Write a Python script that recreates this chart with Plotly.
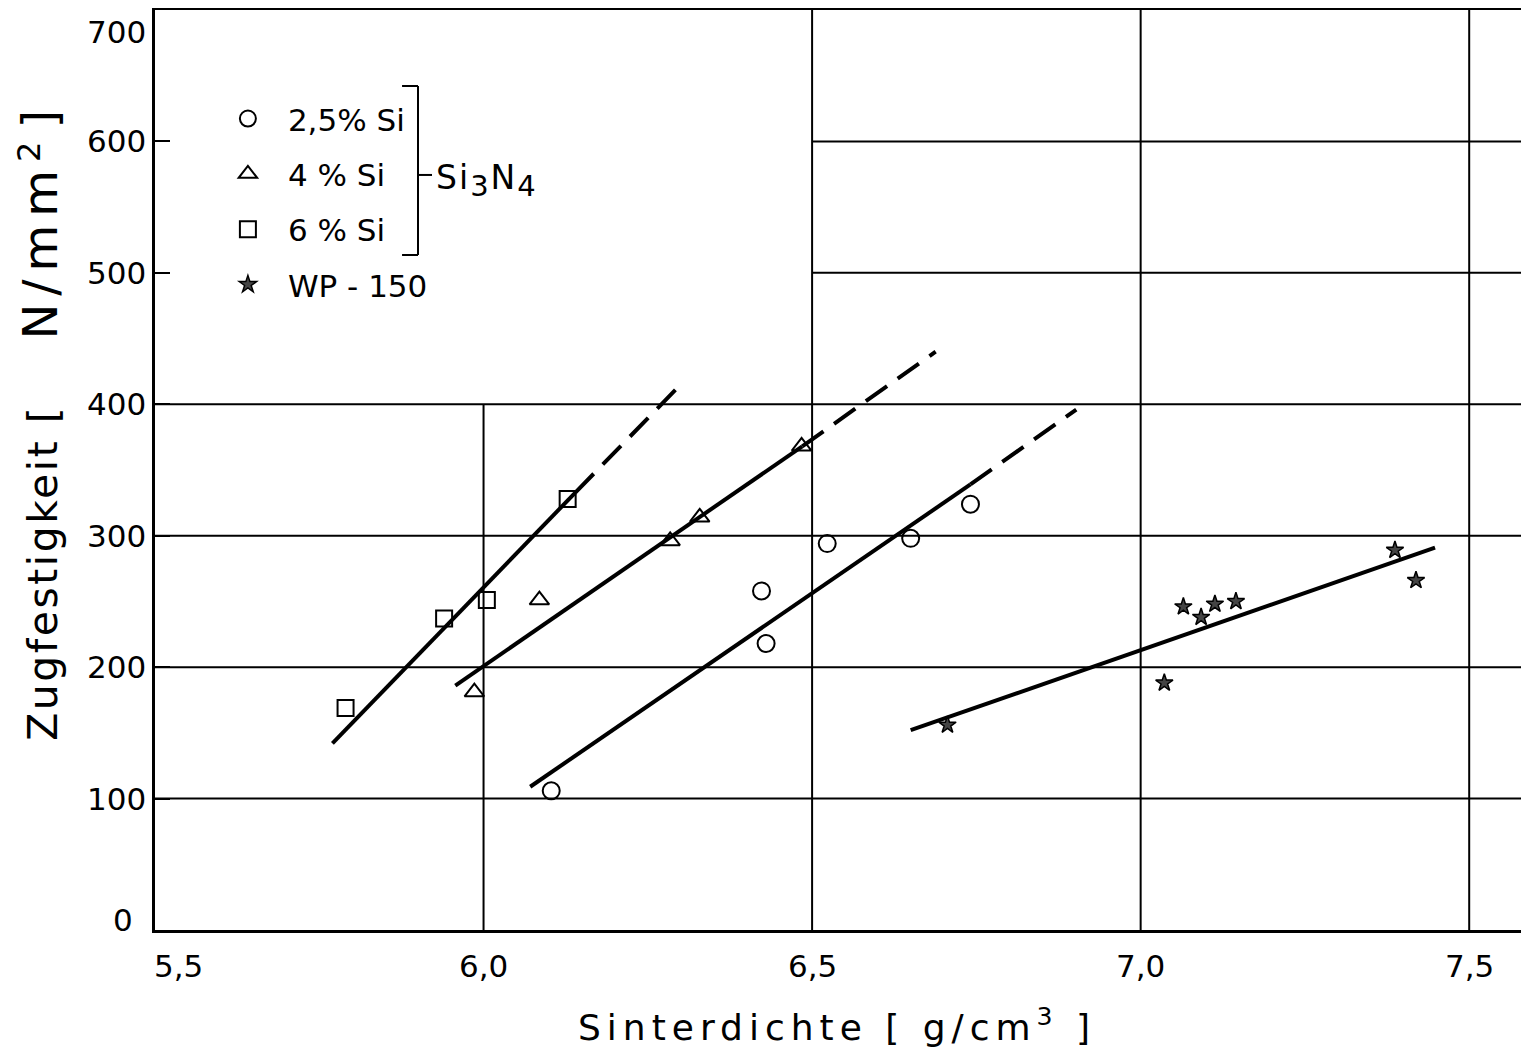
import plotly.graph_objects as go

# Messpunkte (Sinterdichte g/cm3, Zugfestigkeit N/mm2)
si6_x = [5.79, 5.94, 6.005, 6.128]
si6_y = [169, 237, 251, 328]
si4_x = [5.986, 6.085, 6.284, 6.329, 6.484]
si4_y = [181, 251, 296, 314, 368]
si25_x = [6.103, 6.423, 6.43, 6.523, 6.65, 6.741]
si25_y = [106, 258, 218, 294, 298, 324]
wp_x = [6.706, 7.036, 7.065, 7.092, 7.113, 7.145, 7.387, 7.419]
wp_y = [156, 188, 246, 238, 248, 250, 289, 266]

# Ausgleichsgeraden: durchgezogener Teil und gestrichelte Verlaengerung
si6_fit_x, si6_fit_y = [5.77, 6.14], [142, 333]
si6_ext_x, si6_ext_y = [6.14, 6.30], [333, 415]
si4_fit_x, si4_fit_y = [5.957, 6.485], [186, 368]
si4_ext_x, si4_ext_y = [6.485, 6.688], [368, 440]
si25_fit_x, si25_fit_y = [6.071, 6.741], [109, 339]
si25_ext_x, si25_ext_y = [6.741, 6.902], [339, 396]
wp_fit_x, wp_fit_y = [6.65, 7.448], [152, 291]

x_ticks = [5.5, 6.0, 6.5, 7.0, 7.5]
x_ticktext = ["5,5", "6,0", "6,5", "7,0", "7,5"]
y_ticks = [0, 100, 200, 300, 400, 500, 600, 700]

grid_h_full = [100, 200, 300, 400]
grid_h_right = [500, 600]
grid_v_full = [6.5, 7.0, 7.5]
grid_v_low = [6.0]

FONT = "DejaVu Sans"
INK = "black"
NB = "\u00a0"

fig = go.Figure()

line_style = dict(color=INK, width=4)
dash_style = dict(color=INK, width=4, dash="26px,13px")

for fx, fy, ex, ey in [
    (si6_fit_x, si6_fit_y, si6_ext_x, si6_ext_y),
    (si4_fit_x, si4_fit_y, si4_ext_x, si4_ext_y),
    (si25_fit_x, si25_fit_y, si25_ext_x, si25_ext_y),
]:
    fig.add_trace(go.Scatter(x=fx, y=fy, mode="lines", line=line_style,
                             showlegend=False, hoverinfo="skip"))
    fig.add_trace(go.Scatter(x=ex, y=ey, mode="lines", line=dash_style,
                             showlegend=False, hoverinfo="skip"))
fig.add_trace(go.Scatter(x=wp_fit_x, y=wp_fit_y, mode="lines", line=line_style,
                         showlegend=False, hoverinfo="skip"))

marker_sets = [
    ("2,5% Si", si25_x, si25_y, "circle-open", 17),
    ("4 % Si", si4_x, si4_y, "triangle-up-open", 17),
    ("6 % Si", si6_x, si6_y, "square-open", 16),
    ("WP - 150", wp_x, wp_y, "star", 13),
]
for i, (name, xs, ys, sym, size) in enumerate(marker_sets):
    mk = dict(symbol=sym, size=size, color=INK, line=dict(color=INK, width=2))
    if sym == "star":
        mk = dict(symbol=sym, size=size, color="#444", line=dict(color=INK, width=1.5))
    fig.add_trace(go.Scatter(x=xs, y=ys, mode="markers", name=name, marker=mk,
                             legendgroup=f"g{i}", cliponaxis=False))

# Gitter
shapes = []
grid = dict(color=INK, width=2)
for v in grid_h_full:
    shapes.append(dict(type="line", xref="paper", yref="y", x0=0, x1=1, y0=v, y1=v,
                       line=grid, layer="below"))
for v in grid_h_right:
    shapes.append(dict(type="line", xref="x", yref="y", x0=6.5, x1=7.6, y0=v, y1=v,
                       line=grid, layer="below"))
for v in grid_v_full:
    shapes.append(dict(type="line", xref="x", yref="paper", x0=v, x1=v, y0=0, y1=1,
                       line=grid, layer="below"))
for v in grid_v_low:
    shapes.append(dict(type="line", xref="x", yref="y", x0=v, x1=v, y0=0, y1=400,
                       line=grid, layer="below"))

# Klammer um die Si3N4-Legendeneintraege
br = dict(color=INK, width=2)
bx, by_top, by_bot, by_mid = 0.1914, 0.9174, 0.7337, 0.8207
shapes += [
    dict(type="line", xref="paper", yref="paper", x0=bx, x1=bx, y0=by_bot, y1=by_top, line=br),
    dict(type="line", xref="paper", yref="paper", x0=0.1798, x1=bx, y0=by_top, y1=by_top, line=br),
    dict(type="line", xref="paper", yref="paper", x0=0.1798, x1=bx, y0=by_bot, y1=by_bot, line=br),
    dict(type="line", xref="paper", yref="paper", x0=bx, x1=0.2016, y0=by_mid, y1=by_mid, line=br),
]

annotations = []
tick_font = dict(family=FONT, size=31, color=INK)
for v in y_ticks:
    dy = -22 if v == max(y_ticks) else (10 if v == min(y_ticks) else 0)
    dx = -20 if v == min(y_ticks) else -7
    annotations.append(dict(x=0, xref="paper", y=v, yref="y", text=str(v), showarrow=False,
                            xanchor="right", yanchor="middle", xshift=dx, yshift=dy, font=tick_font))
for v, t in zip(x_ticks, x_ticktext):
    dx = 23 if v == min(x_ticks) else 0
    annotations.append(dict(x=v, xref="x", y=0, yref="paper", text=t, showarrow=False,
                            xanchor="center", yanchor="middle", xshift=dx, yshift=-36, font=tick_font))

y_title = ('<span style="letter-spacing:2.5px">Zugfestigkeit [</span>' + NB * 5 +
           '<span style="font-size:48px;letter-spacing:8px">N/mm</span>'
           '<sup><span style="font-size:32px">2</span></sup>' + NB +
           '<span style="font-size:48px">]</span>')
annotations.append(dict(
    x=0, xref="paper", y=0.548, yref="paper", xshift=-116, textangle=-90,
    text=y_title, showarrow=False, xanchor="center", yanchor="middle",
    font=dict(family=FONT, size=41, color=INK)))
annotations.append(dict(
    x=0.4964, xref="paper", y=0, yref="paper", yshift=-95,
    text='<span style="letter-spacing:6px">Sinterdichte [ g/cm<sup>3</sup> ]</span>',
    showarrow=False, xanchor="center", yanchor="middle", font=dict(family=FONT, size=36, color=INK)))
annotations.append(dict(
    x=0.2031, xref="paper", y=0.8150, yref="paper",
    text='<span style="letter-spacing:2px">Si<sub><span style="font-size:29px">3</span></sub>'
         'N<sub><span style="font-size:29px">4</span></sub></span>',
    showarrow=False, xanchor="left", yanchor="middle",
    font=dict(family=FONT, size=33, color=INK)))

fig.update_layout(
    width=1521, height=1043,
    margin=dict(l=147, r=0, t=2, b=121),
    paper_bgcolor="white", plot_bgcolor="white",
    showlegend=True,
    legend=dict(x=0.0385, y=0.911, xanchor="left", yanchor="top",
                bgcolor="rgba(0,0,0,0)", borderwidth=0,
                traceorder="grouped", tracegroupgap=12, itemwidth=70,
                font=dict(family=FONT, size=31, color=INK)),
    xaxis=dict(range=[5.5, 7.591], showgrid=False, zeroline=False,
               showline=True, linecolor=INK, linewidth=3, mirror=True,
               ticks="", showticklabels=False),
    yaxis=dict(range=[0, 700], showgrid=False, zeroline=False,
               showline=True, linecolor=INK, linewidth=3,
               tickvals=y_ticks, ticks="inside", ticklen=15, tickwidth=2, tickcolor=INK,
               showticklabels=False),
    shapes=shapes,
    annotations=annotations,
)

fig.write_html("out.html")
